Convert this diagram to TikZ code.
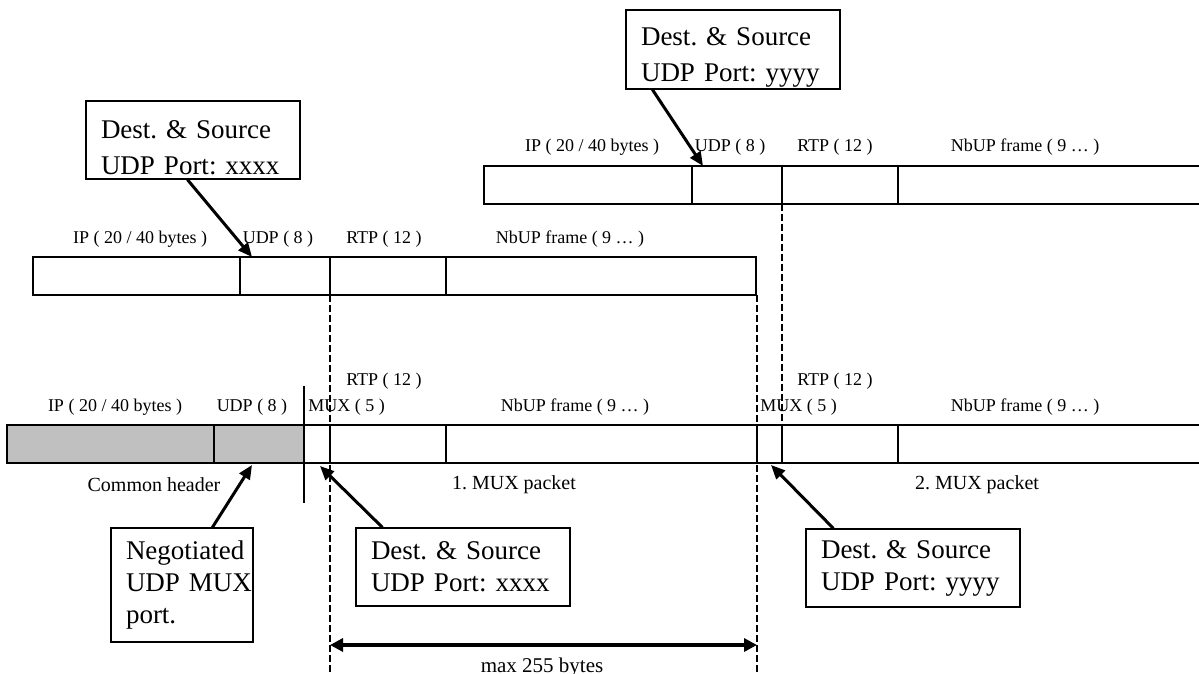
\documentclass[tikz,border=0pt]{standalone}
\usepackage{fontspec}
\setmainfont{Liberation Serif}
\usetikzlibrary{arrows.meta}
\frenchspacing

\begin{document}
\begin{tikzpicture}[x=0.5pt,y=-0.5pt,
  field/.style={line width=1.1pt},
  thinfield/.style={line width=0.7pt},
  fieldlabel/.style={font=\fontsize{9}{10}\selectfont, inner sep=0pt},
  caption/.style={font=\fontsize{10}{12}\selectfont, inner sep=0pt},
  callout/.style={draw, line width=0.6pt, align=left, text width=92pt, inner xsep=7.5pt,
    minimum width=107pt, minimum height=39pt, font=\fontsize{13.5}{16}\selectfont},
  lifted/.style={inner ysep=0.25pt, font=\fontsize{13.5}{18}\selectfont,
    execute at begin node={\rule{0pt}{17pt}}},
  pointer/.style={line width=1.5pt, -{Triangle[length=7pt,width=6pt]}},
  boundary/.style={line width=1.4pt, dash pattern=on 3.5pt off 1.5pt}]
\definecolor{hdrGray}{RGB}{192,192,192}
\useasboundingbox (0,0) rectangle (1199,674);

% upper packet (port yyyy)
\draw[field] (1199,166) -- (484,166) -- (484,204) -- (1199,204);
\draw[field] (692,166) -- (692,204) (782,166) -- (782,204);
\draw[thinfield] (898,166) -- (898,204);
\node[fieldlabel] (ipTop) at (592,147) {IP ( 20 / 40 bytes )};
\node[fieldlabel] (udpTop) at (730,147) {UDP ( 8 )};
\node[fieldlabel] (rtpTop) at (835,147) {RTP ( 12 )};
\node[fieldlabel] (nbupTop) at (1025,147) {NbUP frame ( 9 … )};

% middle packet (port xxxx)
\draw[field] (33,257) rectangle (756,295);
\draw[field] (240,257) -- (240,295) (330,257) -- (330,295);
\draw[thinfield] (446,257) -- (446,295);
\node[fieldlabel] (ipMid) at (140,239) {IP ( 20 / 40 bytes )};
\node[fieldlabel] (udpMid) at (278,239) {UDP ( 8 )};
\node[fieldlabel] (rtpMid) at (384,239) {RTP ( 12 )};
\node[fieldlabel] (nbupMid) at (570,239) {NbUP frame ( 9 … )};

% multiplexed packet
\fill[hdrGray] (7,425) rectangle (304,463);
\draw[field] (1199,425) -- (7,425) -- (7,463) -- (1199,463);
\draw[field] (214,425) -- (214,463);
\draw[thinfield] (304,386) -- (304,503);
\draw[field] (330,425) -- (330,463) (757,425) -- (757,463) (782,425) -- (782,463);
\draw[thinfield] (446,425) -- (446,463) (898,425) -- (898,463);
\node[fieldlabel] (ipLow) at (115,407) {IP ( 20 / 40 bytes )};
\node[fieldlabel] (udpLow) at (252,407) {UDP ( 8 )};
\node[fieldlabel, anchor=west] (muxOne) at (308,407) {MUX ( 5 )};
\node[fieldlabel] (rtpOne) at (384,381) {RTP ( 12 )};
\node[fieldlabel] (nbupOne) at (575,407) {NbUP frame ( 9 … )};
\node[fieldlabel, anchor=west] (muxTwo) at (760,407) {MUX ( 5 )};
\node[fieldlabel] (rtpTwo) at (835,381) {RTP ( 12 )};
\node[fieldlabel] (nbupTwo) at (1025,407) {NbUP frame ( 9 … )};
\node[caption] (common) at (154,485) {Common header};
\node[caption] (packetOne) at (514,485) {1. MUX packet};
\node[caption] (packetTwo) at (977,485) {2. MUX packet};

% dashed boundaries
\coordinate (cutA) at (330,295);
\coordinate (cutAend) at (330,674);
\coordinate (cutB) at (757,295);
\coordinate (cutBend) at (757,674);
\coordinate (cutC) at (782,204);
\coordinate (cutCend) at (782,425);
\draw[boundary] (cutA) -- (cutAend);
\draw[boundary] (cutB) -- (cutBend);
\draw[boundary] (cutC) -- (cutCend);

% callouts
\node[callout, lifted, minimum height=39.5pt] (portY) at (733,49.5) {Dest. \& Source\\UDP Port: yyyy};
\node[callout, lifted] (portX) at (193,140) {Dest. \& Source\\UDP Port: xxxx};
\node[callout, text width=56pt, minimum width=71pt, minimum height=57pt] (muxPort) at (182,585) {Negotiated\\UDP~MUX\\port.};
\node[callout] (portX2) at (463,567) {Dest. \& Source\\UDP Port: xxxx};
\node[callout] (portY2) at (913,568) {Dest. \& Source\\UDP Port: yyyy};

\coordinate (udpHitY) at (703,166);
\coordinate (udpHitX) at (252,257);
\coordinate (hdrHit) at (252,465);
\coordinate (muxHit1) at (320,466);
\coordinate (muxHit2) at (771,465);
\draw[pointer] ([xshift=13.5pt]portY.south west) -- (udpHitY);
\draw[pointer] ([xshift=51pt]portX.south west) -- (udpHitX);
\draw[pointer] ([xshift=51pt]muxPort.north west) -- (hdrHit);
\draw[pointer] ([xshift=13.5pt]portX2.north west) -- (muxHit1);
\draw[pointer] ([xshift=14pt]portY2.north west) -- (muxHit2);

% length limit
\coordinate (spanL) at (330,645);
\coordinate (spanR) at (757,645);
\draw[line width=1.6pt, {Triangle[length=6.5pt,width=6.5pt]}-{Triangle[length=6.5pt,width=6.5pt]}] (spanL) -- (spanR);
\node[caption, font=\fontsize{10.5}{12}\selectfont, anchor=base] (maxLen) at (542,672) {max 255 bytes};
\end{tikzpicture}
\end{document}
